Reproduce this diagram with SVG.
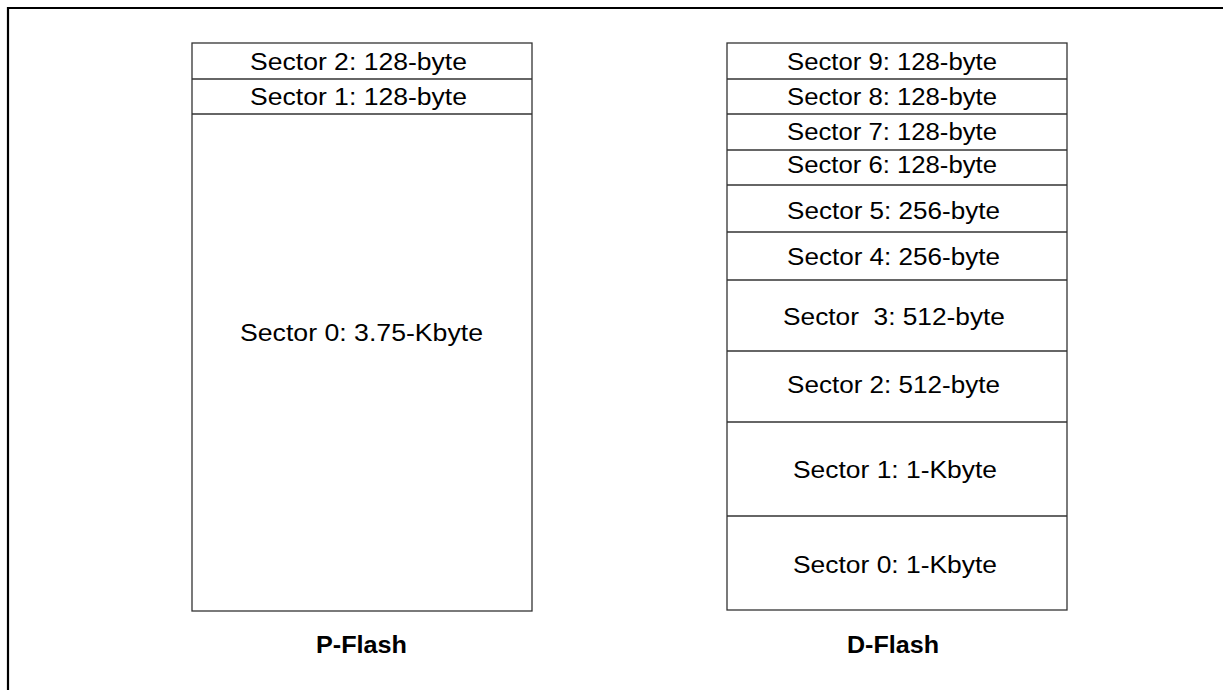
<svg xmlns="http://www.w3.org/2000/svg" width="1225" height="690" viewBox="0 0 1225 690">
<style>
.box{fill:#fff;stroke:#333;stroke-width:1.3}
.div{stroke:#333;stroke-width:1.3}
.t{font-family:"Liberation Sans",Arial,sans-serif;font-size:23px;fill:#000;white-space:pre}
.b{font-family:"Liberation Sans",Arial,sans-serif;font-size:23px;font-weight:bold;fill:#000}
</style>
<rect width="1225" height="690" fill="#fff"/>
<path d="M8 690 V8 H1223" fill="none" stroke="#000" stroke-width="2.2"/>
<g id="pflash">
<rect class="box" x="192" y="43" width="340" height="568"/>
<line class="div" x1="192" y1="79" x2="532" y2="79"/>
<line class="div" x1="192" y1="114" x2="532" y2="114"/>
<text class="t" x="250" y="70" textLength="217" lengthAdjust="spacingAndGlyphs">Sector 2: 128-byte</text>
<text class="t" x="250" y="105" textLength="217" lengthAdjust="spacingAndGlyphs">Sector 1: 128-byte</text>
<text class="t" x="240" y="341" textLength="243" lengthAdjust="spacingAndGlyphs">Sector 0: 3.75-Kbyte</text>
<text class="b" x="316" y="653" textLength="91" lengthAdjust="spacingAndGlyphs">P-Flash</text>
</g>
<g id="dflash">
<rect class="box" x="727" y="43" width="340" height="567"/>
<line class="div" x1="727" y1="79" x2="1067" y2="79"/>
<line class="div" x1="727" y1="114" x2="1067" y2="114"/>
<line class="div" x1="727" y1="150" x2="1067" y2="150"/>
<line class="div" x1="727" y1="185" x2="1067" y2="185"/>
<line class="div" x1="727" y1="232" x2="1067" y2="232"/>
<line class="div" x1="727" y1="280" x2="1067" y2="280"/>
<line class="div" x1="727" y1="351" x2="1067" y2="351"/>
<line class="div" x1="727" y1="422" x2="1067" y2="422"/>
<line class="div" x1="727" y1="516" x2="1067" y2="516"/>
<text class="t" x="787" y="70" textLength="210" lengthAdjust="spacingAndGlyphs">Sector 9: 128-byte</text>
<text class="t" x="787" y="105" textLength="210" lengthAdjust="spacingAndGlyphs">Sector 8: 128-byte</text>
<text class="t" x="787" y="140" textLength="210" lengthAdjust="spacingAndGlyphs">Sector 7: 128-byte</text>
<text class="t" x="787" y="173" textLength="210" lengthAdjust="spacingAndGlyphs">Sector 6: 128-byte</text>
<text class="t" x="787" y="219" textLength="213" lengthAdjust="spacingAndGlyphs">Sector 5: 256-byte</text>
<text class="t" x="787" y="265" textLength="213" lengthAdjust="spacingAndGlyphs">Sector 4: 256-byte</text>
<text class="t" x="783" y="325" textLength="222" lengthAdjust="spacingAndGlyphs" xml:space="preserve">Sector  3: 512-byte</text>
<text class="t" x="787" y="393" textLength="213" lengthAdjust="spacingAndGlyphs">Sector 2: 512-byte</text>
<text class="t" x="793" y="478" textLength="204" lengthAdjust="spacingAndGlyphs">Sector 1: 1-Kbyte</text>
<text class="t" x="793" y="573" textLength="204" lengthAdjust="spacingAndGlyphs">Sector 0: 1-Kbyte</text>
<text class="b" x="847" y="653" textLength="92" lengthAdjust="spacingAndGlyphs">D-Flash</text>
</g>
</svg>
